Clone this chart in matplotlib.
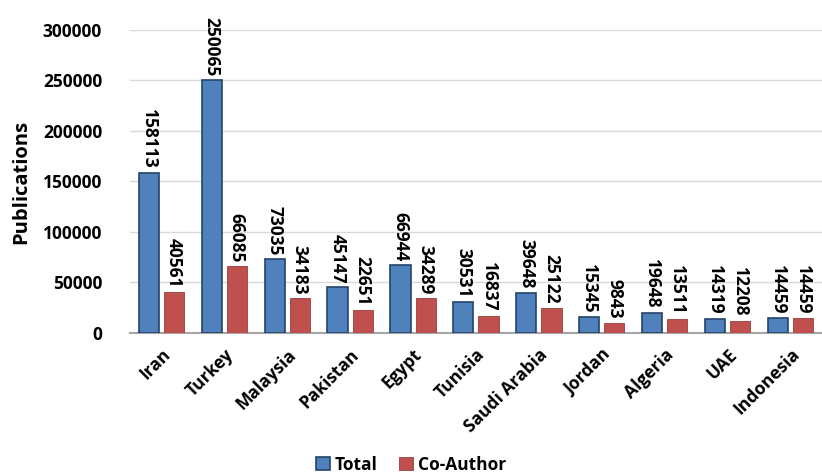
import numpy as np
import matplotlib
matplotlib.use("Agg")
import matplotlib.pyplot as plt

plt.rcParams['font.family'] = ['Open Sans', 'DejaVu Sans']

countries = ["Iran", "Turkey", "Malaysia", "Pakistan", "Egypt", "Tunisia",
             "Saudi Arabia", "Jordan", "Algeria", "UAE", "Indonesia"]
total = [158113, 250065, 73035, 45147, 66944, 30531, 39648, 15345, 19648, 14319, 14459]
co_author = [40561, 66085, 34183, 22651, 34289, 16837, 25122, 9843, 13511, 12208, 14459]
y_ticks = [0, 50000, 100000, 150000, 200000, 250000, 300000]

blue = "#4F81BD"
red = "#C0504D"

fig = plt.figure(figsize=(8.22, 4.75), dpi=100)
ax = fig.add_axes([0.158, 0.299, 0.842, 0.638])

x = np.arange(len(countries))
w = 0.32
off = 0.2
b1 = ax.bar(x - off, total, w, color=blue, edgecolor="#24436A", linewidth=1.2, label="Total", zorder=3)
b2 = ax.bar(x + off, co_author, w, color=red, edgecolor="#9A3D3A", linewidth=0.6, label="Co-Author", zorder=3)

# value labels on top of every bar, reading downwards
for bars, vals in ((b1, total), (b2, co_author)):
    for bar, v in zip(bars, vals):
        ax.annotate(str(v), (bar.get_x() + bar.get_width() / 2, v),
                    xytext=(0, 3), textcoords="offset points",
                    rotation=270, ha="center", va="bottom",
                    fontsize=12.5, fontweight="bold", annotation_clip=False)

ax.set_xlim(-0.5, len(countries) - 0.5)
ax.set_ylim(0, 300000)
ax.set_yticks(y_ticks)
ax.set_yticklabels([str(t) for t in y_ticks], fontsize=12.5, fontweight="bold")
ax.set_xticks(x)
ax.set_xticklabels(countries, rotation=45, ha="right", rotation_mode="anchor",
                   fontsize=12.5, fontweight="bold")
ax.tick_params(axis="both", length=0)
ax.tick_params(axis="y", pad=20)
ax.tick_params(axis="x", pad=9)

ax.yaxis.grid(True, color="#D9D9D9", linewidth=1.0, zorder=0)
ax.set_axisbelow(True)
for side in ("top", "right", "left"):
    ax.spines[side].set_visible(False)
ax.spines["bottom"].set_color("#A6A6A6")
ax.spines["bottom"].set_linewidth(1.5)

ax.set_ylabel("Publications", fontsize=14.5, fontweight="bold", labelpad=8)

fig.legend(handles=[b1, b2], loc="lower center", bbox_to_anchor=(0.5, -0.03),
           ncol=2, frameon=False, prop={"size": 12.5, "weight": "bold"},
           handlelength=0.8, handleheight=0.8, handletextpad=0.3, columnspacing=1.2)

fig.savefig("out.png", dpi=100)
